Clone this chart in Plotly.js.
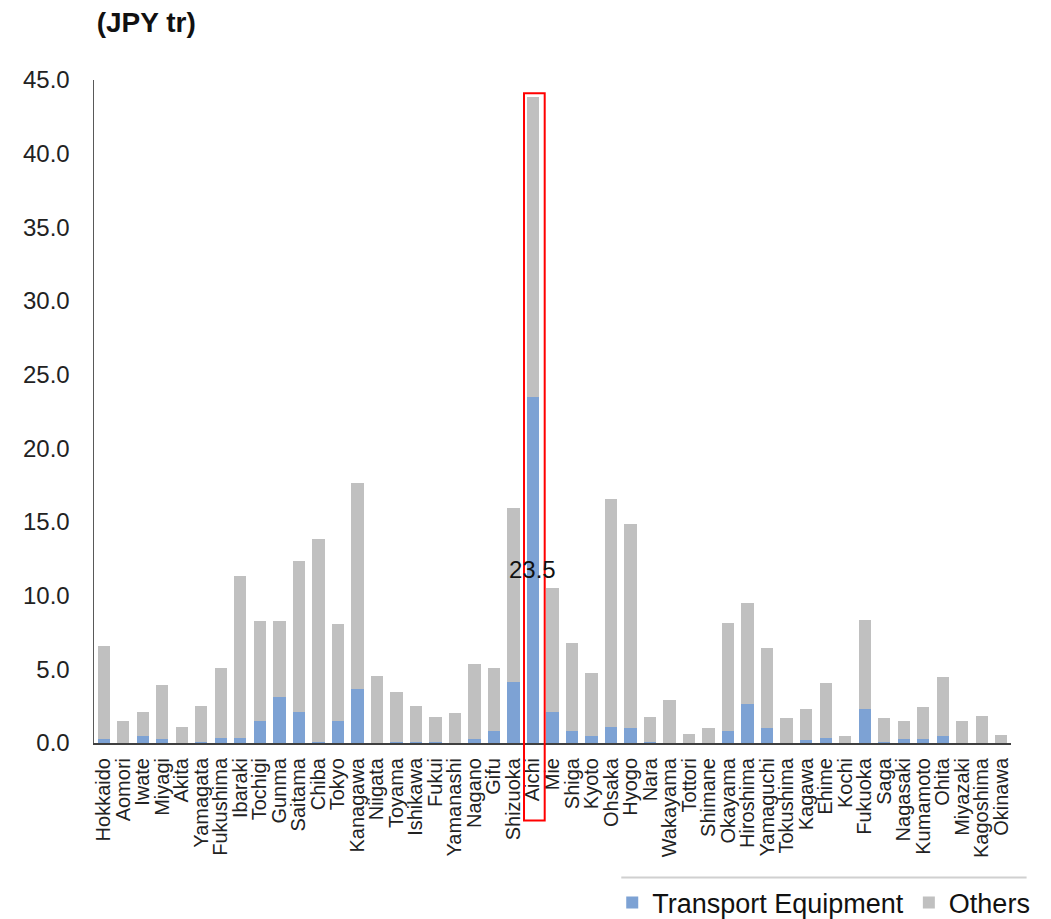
<!DOCTYPE html>
<html>
<head>
<meta charset="utf-8">
<script src="https://cdn.plot.ly/plotly-3.0.1.min.js"></script>
<style>html,body{margin:0;padding:0;background:#fff;}#chart{width:1051px;height:919px;}</style>
</head>
<body>
<div id="chart"></div>
<script>
const categories = ['Hokkaido','Aomori','Iwate','Miyagi','Akita','Yamagata','Fukushima','Ibaraki','Tochigi','Gunma','Saitama','Chiba','Tokyo','Kanagawa','Niigata','Toyama','Ishikawa','Fukui','Yamanashi','Nagano','Gifu','Shizuoka','Aichi','Mie','Shiga','Kyoto','Ohsaka','Hyogo','Nara','Wakayama','Tottori','Shimane','Okayama','Hiroshima','Yamaguchi','Tokushima','Kagawa','Ehime','Kochi','Fukuoka','Saga','Nagasaki','Kumamoto','Ohita','Miyazaki','Kagoshima','Okinawa'];

const transport = [0.27,0.02,0.45,0.27,0.02,0.05,0.37,0.37,1.47,3.10,2.13,0.10,1.47,3.67,0.03,0.05,0.05,0.05,0.02,0.27,0.84,4.13,23.5,2.13,0.84,0.45,1.11,1.02,0.05,0.02,0.02,0.02,0.84,2.63,1.02,0.03,0.18,0.37,0.02,2.34,0.05,0.27,0.27,0.45,0.02,0.03,0.01];

const others = [6.30,1.45,1.68,3.65,1.09,2.47,4.69,10.98,6.78,5.15,10.22,13.73,6.60,14.01,4.55,3.40,2.47,1.72,2.02,5.08,4.22,11.85,20.37,8.41,5.92,4.33,15.44,13.85,1.72,2.88,0.62,1.00,7.32,6.84,5.46,1.65,2.16,3.67,0.43,6.00,1.63,1.20,2.16,4.06,1.45,1.83,0.53];

const yTicks = [0,5,10,15,20,25,30,35,40,45];
const yTickLabels = ['0.0','5.0','10.0','15.0','20.0','25.0','30.0','35.0','40.0','45.0'];

const highlight = 'Aichi';
const hIdx = categories.indexOf(highlight);

const FONT = 'Liberation Sans, Arial, sans-serif';

const traces = [
  {type:'bar', name:'Transport Equipment', x:categories, y:transport, marker:{color:'#7DA2D4'}},
  {type:'bar', name:'Others', x:categories, y:others, marker:{color:'#C0C0C0'}}
];

const layout = {
  width:1051, height:919,
  margin:{l:94, r:40, t:80, b:176},
  paper_bgcolor:'#fff', plot_bgcolor:'#fff',
  barmode:'stack', bargap:0.37,
  font:{family:FONT, color:'#1a1a1a'},
  title:{text:'<b>(JPY tr)</b>', xref:'container', x:0.092, xanchor:'left', y:0.976, yanchor:'middle', font:{size:28, family:FONT, color:'#111'}},
  xaxis:{
    type:'category', tickmode:'array', tickvals:categories, ticktext:categories, tickangle:-90,
    showline:true, linecolor:'#404040', linewidth:2, automargin:false,
    showgrid:false, ticks:'', tickfont:{size:20, family:FONT, color:'#222'}, ticklabelstandoff:5,
    range:[-0.5, categories.length-0.5]
  },
  yaxis:{
    range:[0,45], tickvals:yTicks, ticktext:yTickLabels, showline:true, linecolor:'#595959', linewidth:1.5,
    showgrid:false, zeroline:false, ticks:'', automargin:false, tickfont:{size:24, family:FONT, color:'#222'}, ticklabelstandoff:18
  },
  showlegend:true,
  legend:{orientation:'h', xref:'container', yref:'container', x:0.985, xanchor:'right', y:0.0174, yanchor:'middle', traceorder:'normal',
    font:{size:27, family:FONT, color:'#111'}, itemwidth:30, bgcolor:'rgba(0,0,0,0)'},
  annotations:[{
    x:highlight, y:transport[hIdx]/2, xref:'x', yref:'y', text:transport[hIdx].toFixed(1), showarrow:false,
    font:{size:24, family:FONT, color:'#111'}, xanchor:'center', yanchor:'middle'
  }],
  shapes:[
    {type:'rect', xref:'x', yref:'paper', x0:hIdx-0.46, x1:hIdx+0.6, y0:-0.117, y1:0.98,
     line:{color:'#FF0000', width:2}, fillcolor:'rgba(0,0,0,0)', layer:'above'},
    {type:'line', xref:'paper', yref:'paper', x0:0.575, x1:1.017, y0:-0.203, y1:-0.203,
     line:{color:'#D0D0D0', width:2}}
  ]
};

Plotly.newPlot('chart', traces, layout, {displayModeBar:false, staticPlot:true});
</script>
</body>
</html>
